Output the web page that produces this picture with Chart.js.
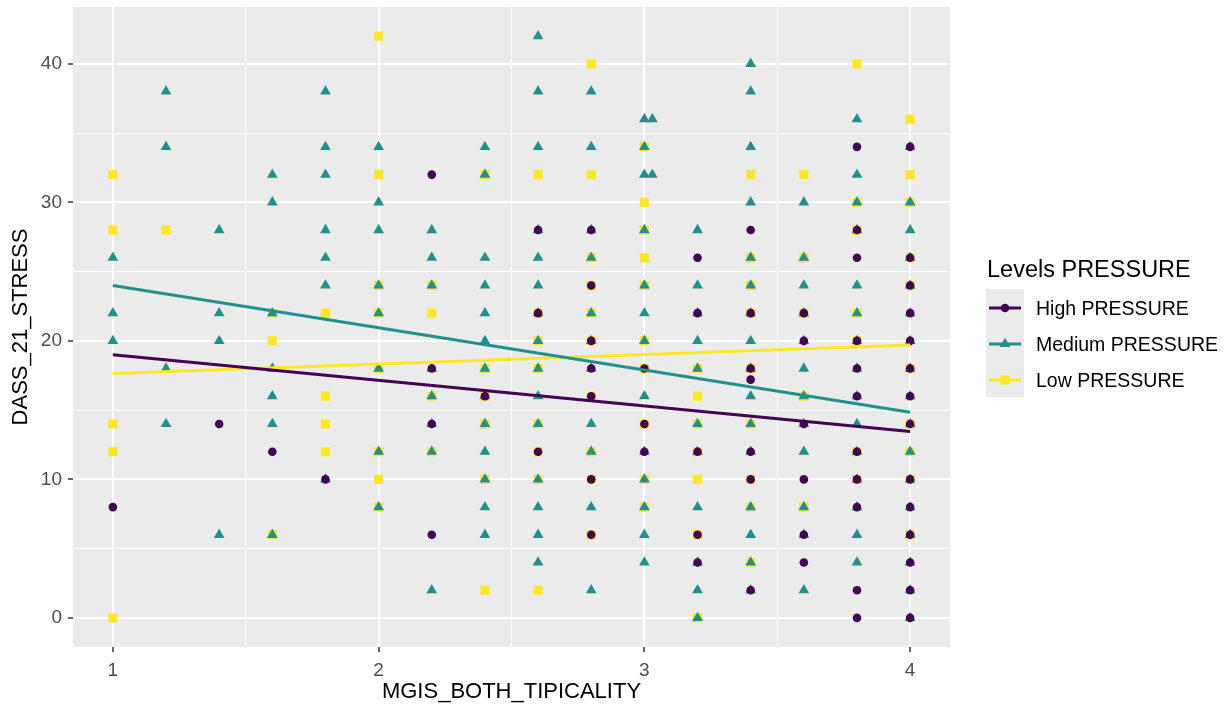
<!DOCTYPE html>
<html>
<head>
<meta charset="utf-8">
<script src="https://cdn.jsdelivr.net/npm/chart.js@4/dist/chart.umd.min.js"></script>
<style>
  body { margin: 0; background: #fff; font-family: "Liberation Sans", Arial, sans-serif; }
  #wrap { position: relative; width: 1230px; height: 706px; }
  #legend { position: absolute; left: 0; top: 0; }
  .lg-title { position: absolute; left: 987px; top: 255px; font-size: 23.5px; line-height: 28px; color: #000; white-space: nowrap; }
  .lg-box { position: absolute; left: 986px; top: 289px; width: 38px; height: 108px; background: #EBEBEB; }
  .lg-key { position: absolute; left: 986px; width: 38px; height: 36px; }
  .lg-label { position: absolute; left: 1036px; font-size: 19.5px; line-height: 22px; color: #000; white-space: nowrap; }
</style>
</head>
<body>
<div id="wrap">
  <canvas id="stress_chart"></canvas>
  <div id="legend"></div>
</div>
<script>
// x positions of the MGIS_BOTH_TIPICALITY values
const xLevels = [1, 1.2, 1.4, 1.6, 1.8, 2, 2.2, 2.4, 2.6, 2.8, 3, 3.03, 3.2, 3.4, 3.6, 3.8, 4];

// DASS_21_STRESS values at each x level, one list per level
const highStress = [
  [8], [], [14], [12], [10], [], [32, 18, 14, 6], [16], [28, 22, 12],
  [28, 24, 20, 18, 16, 10, 6], [18, 14, 12], [], [26, 22, 12, 6, 4],
  [28, 22, 18, 17.2, 12, 10, 2], [22, 20, 14, 10, 6, 4],
  [34, 28, 26, 20, 18, 16, 12, 10, 8, 2, 0],
  [34, 26, 24, 22, 20, 18, 16, 14, 10, 8, 6, 4, 2, 0]
];
const mediumStress = [
  [26, 22, 20], [38, 34, 18, 14], [28, 22, 20, 6], [32, 30, 22, 18, 16, 14, 6],
  [38, 34, 32, 28, 26, 24, 10], [34, 30, 28, 24, 22, 18, 12, 8],
  [28, 26, 24, 18, 16, 14, 12, 2],
  [34, 32, 26, 24, 22, 20, 18, 16, 14, 12, 10, 8, 6],
  [42, 38, 34, 28, 26, 24, 22, 20, 18, 16, 14, 10, 8, 6, 4],
  [38, 34, 28, 26, 22, 20, 18, 14, 12, 8, 2],
  [36, 34, 32, 28, 24, 22, 20, 16, 12, 10, 8, 6, 4], [36, 32],
  [28, 24, 22, 20, 18, 14, 12, 8, 4, 2, 0],
  [40, 38, 34, 30, 26, 24, 22, 20, 18, 16, 14, 12, 8, 6, 4, 2],
  [30, 26, 24, 22, 20, 18, 16, 14, 12, 8, 6, 2],
  [36, 32, 30, 28, 24, 22, 20, 18, 16, 14, 12, 10, 8, 6, 4],
  [34, 30, 28, 26, 24, 22, 20, 18, 16, 14, 12, 10, 8, 6, 4, 2, 0]
];
const lowStress = [
  [32, 28, 14, 12, 0], [28], [], [22, 20, 6], [22, 16, 14, 12],
  [42, 32, 24, 22, 18, 12, 10, 8], [24, 22, 16, 12], [32, 18, 16, 14, 10, 2],
  [32, 22, 20, 18, 14, 12, 10, 2], [40, 32, 26, 24, 22, 20, 16, 12, 10, 6],
  [34, 30, 28, 26, 24, 20, 18, 14, 10, 8], [], [18, 16, 14, 12, 10, 6, 0],
  [32, 26, 24, 22, 18, 14, 10, 8, 4], [32, 26, 22, 16, 8],
  [40, 30, 28, 22, 20, 12, 10], [36, 32, 30, 26, 24, 18, 14, 12, 10, 6]
];

// fitted lines, values at x = 1 and x = 4
const fitX = [1, 4];
const highFit = [19.0, 13.45];
const mediumFit = [24.0, 14.85];
const lowFit = [17.65, 19.7];

const xTicks = [1, 1.5, 2, 2.5, 3, 3.5, 4];
const yTicks = [0, 5, 10, 15, 20, 25, 30, 35, 40];

const groupNames = ['High PRESSURE', 'Medium PRESSURE', 'Low PRESSURE'];
const colors = ['#440154', '#21908C', '#FDE725'];
const shapes = ['circle', 'triangle', 'rect'];
const radii = [4.3, 6.2, 6.5];

function toPoints(cols) {
  const pts = [];
  cols.forEach((ys, i) => ys.forEach(y => pts.push({ x: xLevels[i], y: y })));
  return pts;
}
function toLine(vals) {
  return vals.map((y, i) => ({ x: fitX[i], y: y }));
}

const fits = [highFit, mediumFit, lowFit];
const groups = [highStress, mediumStress, lowStress];

// lines first so they sit on top of the points
const datasets = [];
fits.forEach((f, i) => datasets.push({
  label: groupNames[i] + ' fit',
  data: toLine(f),
  showLine: true,
  borderColor: colors[i],
  borderWidth: 3,
  pointRadius: 0
}));
groups.forEach((g, i) => datasets.push({
  label: groupNames[i],
  data: toPoints(g),
  backgroundColor: colors[i],
  borderWidth: 0,
  pointStyle: shapes[i],
  pointRadius: radii[i],
  pointHoverRadius: radii[i]
}));

const panelBg = {
  id: 'panelBg',
  beforeDraw(chart) {
    const { ctx, chartArea: a } = chart;
    ctx.save();
    ctx.fillStyle = '#EBEBEB';
    ctx.fillRect(a.left, a.top, a.right - a.left, a.bottom - a.top);
    ctx.restore();
  }
};

const fontFam = '"Liberation Sans", Arial, sans-serif';

new Chart(document.getElementById('stress_chart').getContext('2d'), {
  type: 'scatter',
  data: { datasets: datasets },
  options: {
    responsive: true,
    maintainAspectRatio: false,
    animation: false,
    events: [],
    layout: { padding: { top: 7, right: 280, left: 0, bottom: 0 } },
    plugins: { legend: { display: false }, tooltip: { enabled: false } },
    scales: {
      x: {
        type: 'linear',
        min: 0.85,
        max: 4.15,
        afterBuildTicks: s => { s.ticks = xTicks.map(v => ({ value: v })); },
        afterFit: s => { s.height = 59; s.paddingLeft = 0; s.paddingRight = 0; },
        border: { display: false },
        grid: {
          color: '#fff',
          lineWidth: c => (c.tick && c.tick.value % 1 === 0) ? 2 : 1,
          tickColor: c => (c.tick && c.tick.value % 1 === 0) ? '#333' : 'rgba(0,0,0,0)',
          tickWidth: 1.5,
          tickLength: 5
        },
        ticks: {
          autoSkip: false,
          maxRotation: 0,
          padding: 7,
          color: '#4D4D4D',
          font: { family: fontFam, size: 19 },
          callback: v => (v % 1 === 0 ? String(v) : '')
        },
        title: {
          display: true,
          text: 'MGIS_BOTH_TIPICALITY',
          color: '#000',
          font: { family: fontFam, size: 22 },
          padding: { top: 0, bottom: 1 }
        }
      },
      y: {
        type: 'linear',
        min: -2.1,
        max: 44.1,
        afterBuildTicks: s => { s.ticks = yTicks.map(v => ({ value: v })); },
        afterFit: s => { s.width = 73; s.paddingTop = 0; s.paddingBottom = 0; },
        border: { display: false },
        grid: {
          color: '#fff',
          lineWidth: c => (c.tick && c.tick.value % 10 === 0) ? 2 : 1,
          tickColor: c => (c.tick && c.tick.value % 10 === 0) ? '#333' : 'rgba(0,0,0,0)',
          tickWidth: 1.5,
          tickLength: 5
        },
        ticks: {
          autoSkip: false,
          padding: 6,
          color: '#4D4D4D',
          font: { family: fontFam, size: 19 },
          callback: v => (v % 10 === 0 ? String(v) : '')
        },
        title: {
          display: true,
          text: 'DASS_21_STRESS',
          color: '#000',
          font: { family: fontFam, size: 22 },
          padding: { top: 8, bottom: 0 }
        }
      }
    }
  },
  plugins: [panelBg]
});

// legend, ggplot style on the right
const legend = document.getElementById('legend');
const rowTops = [290, 326, 362];
let html = '<div class="lg-title">Levels PRESSURE</div><div class="lg-box"></div>';
function keyShape(i) {
  const c = colors[i];
  if (shapes[i] === 'circle') return '<circle cx="19" cy="18" r="4.3" fill="' + c + '"/>';
  if (shapes[i] === 'triangle') return '<polygon points="19,11.8 24.4,21.1 13.6,21.1" fill="' + c + '"/>';
  return '<rect x="14.4" y="13.4" width="9.2" height="9.2" fill="' + c + '"/>';
}
groupNames.forEach((name, i) => {
  html += '<svg class="lg-key" style="top:' + rowTops[i] + 'px" width="38" height="36">' +
    '<line x1="3" y1="18" x2="35" y2="18" stroke="' + colors[i] + '" stroke-width="3"/>' +
    keyShape(i) + '</svg>';
  html += '<div class="lg-label" style="top:' + (rowTops[i] + 7) + 'px">' + name + '</div>';
});
legend.innerHTML = html;
</script>
</body>
</html>
